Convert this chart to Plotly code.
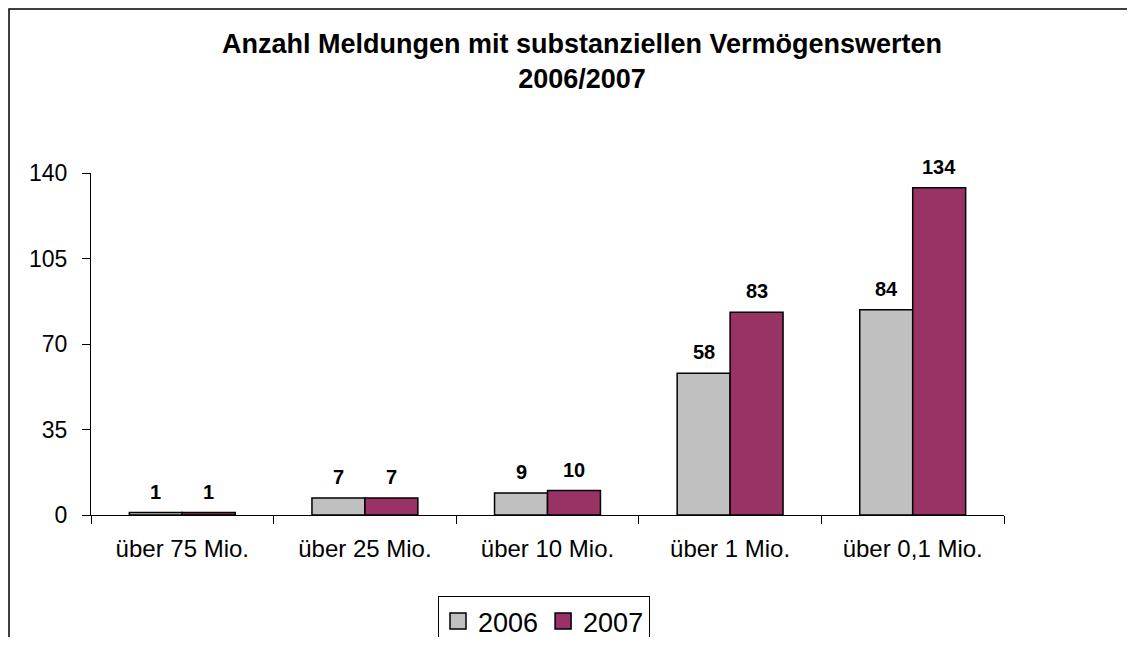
import plotly.graph_objects as go

categories = ["über 75 Mio.", "über 25 Mio.", "über 10 Mio.", "über 1 Mio.", "über 0,1 Mio."]
values_2006 = [1, 7, 9, 58, 84]
values_2007 = [1, 7, 10, 83, 134]
series_names = ["2006", "2007"]
series_colors = ["#C0C0C0", "#993366"]
y_ticks = [0, 35, 70, 105, 140]

# page offset: the browser body has an 8px margin
OFF = 8
W, H = 1135 - 2 * OFF, 645 - 2 * OFF
# target page coordinates of plot area: x 91..1004, y 173..515
ml = 91 - OFF
mt = 173 - OFF
pw = 1004 - 91
ph = 515 - 173
mr = W - ml - pw
mb = H - mt - ph

def px_x(px):
    return (px - OFF - ml) / pw

def px_y(py):
    return (mt + ph - (py - OFF)) / ph

font_family = "Liberation Sans, Arial, sans-serif"

fig = go.Figure()
for name, vals, col in zip(series_names, (values_2006, values_2007), series_colors):
    fig.add_trace(go.Bar(
        x=categories, y=vals, name=name, legendgroup=name, showlegend=False,
        marker=dict(color=col, line=dict(color="#000000", width=1.5)),
    ))
# legend entries with larger square swatches
for name, col in zip(series_names, series_colors):
    fig.add_trace(go.Scatter(
        x=[None], y=[None], name=name, legendgroup=name, mode="markers",
        marker=dict(symbol="square", size=17, color=col, line=dict(color="#000000", width=1.5)),
    ))

bargap = 0.42
cat_w = pw / len(categories)
bar_w = cat_w * (1 - bargap) / 2

for vals, shift in ((values_2006, -bar_w / 2), (values_2007, bar_w / 2)):
    for c, v in zip(categories, vals):
        fig.add_annotation(
            x=c, y=v, xref="x", yref="y", text=str(v), showarrow=False,
            xanchor="center", yanchor="bottom", xshift=shift, yshift=8,
            font=dict(family=font_family, size=20, color="#000000", weight="bold"),
        )

# outer chart frame (right and bottom edges run off the picture)
fig.add_shape(
    type="rect", xref="paper", yref="paper",
    x0=px_x(9), x1=px_x(1200), y0=px_y(700), y1=px_y(9),
    line=dict(color="#000000", width=1.5), fillcolor="rgba(0,0,0,0)", layer="below",
)

fig.update_layout(
    width=W, height=H,
    margin=dict(l=ml, r=mr, t=mt, b=mb, autoexpand=False),
    paper_bgcolor="#FFFFFF", plot_bgcolor="#FFFFFF",
    barmode="group", bargap=bargap, bargroupgap=0,
    font=dict(family=font_family, color="#000000"),
    title=dict(
        text="Anzahl Meldungen mit substanziellen Vermögenswerten<br>2006/2007",
        x=px_x(582), xref="paper", xanchor="center",
        y=1 - (53 - OFF) / H, yref="container", yanchor="middle",
        font=dict(family=font_family, size=27, color="#000000", weight="bold"),
    ),
    xaxis=dict(
        showline=True, linecolor="#000000", linewidth=1,
        ticks="outside", ticklen=8, tickcolor="#000000", tickwidth=1,
        tickson="boundaries", showgrid=False,
        tickfont=dict(family=font_family, size=24, color="#000000"),
        ticklabelstandoff=12,
    ),
    yaxis=dict(
        range=[0, 140], tickvals=y_ticks, showline=True, linecolor="#000000", linewidth=1,
        ticks="outside", ticklen=8, tickcolor="#000000", tickwidth=1,
        showgrid=False, zeroline=False,
        tickfont=dict(family=font_family, size=23, color="#000000"),
        ticklabelstandoff=10,
    ),
    showlegend=True,
    legend=dict(
        orientation="h", x=px_x(544), xanchor="center", y=px_y(596), yanchor="top",
        bordercolor="#000000", borderwidth=1, bgcolor="#FFFFFF",
        font=dict(family=font_family, size=27, color="#000000"),
        itemsizing="trace", itemwidth=30, tracegroupgap=0,
    ),
)

fig.write_html("out.html")
